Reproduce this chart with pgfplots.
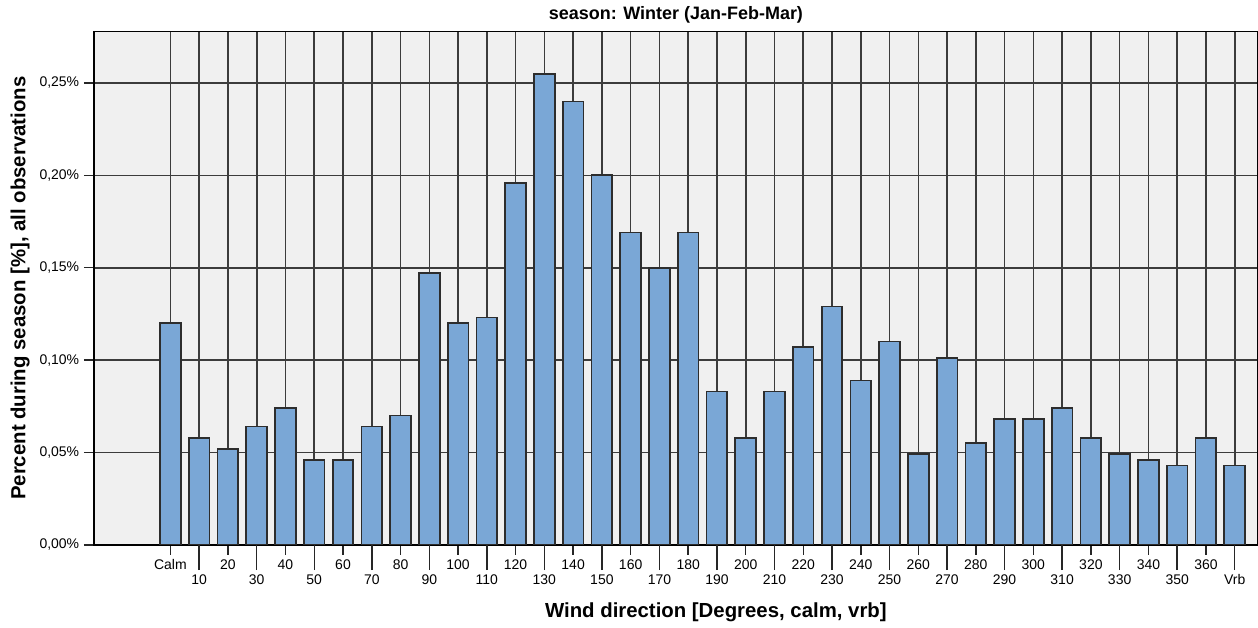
\documentclass[border=0pt]{standalone}
\usepackage{pgfplots}
\pgfplotsset{compat=1.18}
\usepackage{fontspec}
\setmainfont{Liberation Sans}
\definecolor{barfill}{RGB}{122,167,214}
\definecolor{bgray}{RGB}{240,240,240}
\definecolor{edge}{RGB}{45,45,45}
\definecolor{gridc}{RGB}{60,60,60}
\begin{document}
\begin{tikzpicture}
\begin{axis}[
 scale only axis, width=874.5pt, height=385.5pt,
 xmin=-2.662, xmax=37.81, ymin=0, ymax=0.2778,
 axis background/.style={fill=bgray},
 axis line style={black, line width=1.1pt},
 ybar, bar width=0.72,
 tick align=outside,
 xtick pos=bottom, ytick pos=left,
 major tick length=7.5pt,
 tick style={black!85, line width=1.1pt},
 xtick={0,1,...,37},
 xticklabels={Calm,{},20,{},40,{},60,{},80,{},100,{},120,{},140,{},160,{},180,{},200,{},220,{},240,{},260,{},280,{},300,{},320,{},340,{},360,{}},
 extra x ticks={1,3,...,37},
 extra x tick labels={10,30,50,70,90,110,130,150,170,190,210,230,250,270,290,310,330,350,Vrb},
 every extra x tick/.style={major tick length=19pt, grid=none},
 ytick={0,0.05,0.1,0.15,0.2,0.25},
 yticklabels={{0,00\%},{0,05\%},{0,10\%},{0,15\%},{0,20\%},{0,25\%}},
 ymajorgrids, xmajorgrids,
 major grid style={gridc, line width=1.2pt},
 ticklabel style={font=\fontsize{10.5}{12}\selectfont},
 xlabel={\textbf{Wind direction [Degrees, calm, vrb]}},
 ylabel={\textbf{Percent during season [\%], all observations}},
 xlabel style={at={(axis description cs:0.5343,-0.1323)}, anchor=center, font=\fontsize{15.3}{17}\selectfont},
 ylabel style={at={(axis description cs:-0.0633,0.5)}, anchor=center, font=\fontsize{15.3}{17}\selectfont},
 title={\textbf{season: Winter (Jan-Feb-Mar)}},
 title style={at={(axis description cs:0.5,1.0324)}, anchor=center, yshift=-6pt, font=\fontsize{13.5}{15}\selectfont},
]
\addplot[fill=barfill, draw=edge, line width=1.3pt] coordinates {
(0,0.120) (1,0.058) (2,0.052) (3,0.064) (4,0.074) (5,0.046) (6,0.046) (7,0.064)
(8,0.070) (9,0.147) (10,0.120) (11,0.123) (12,0.196) (13,0.255) (14,0.240)
(15,0.200) (16,0.169) (17,0.150) (18,0.169) (19,0.083) (20,0.058) (21,0.083)
(22,0.107) (23,0.129) (24,0.089) (25,0.110) (26,0.049) (27,0.101) (28,0.055)
(29,0.068) (30,0.068) (31,0.074) (32,0.058) (33,0.049) (34,0.046) (35,0.043)
(36,0.058) (37,0.043)
};
\end{axis}
\pgfresetboundingbox
\path (current axis.south west) ++(-70.5pt,-62.25pt) rectangle (current axis.north east) ++(-1.5pt,23.75pt);
\end{tikzpicture}
\end{document}
